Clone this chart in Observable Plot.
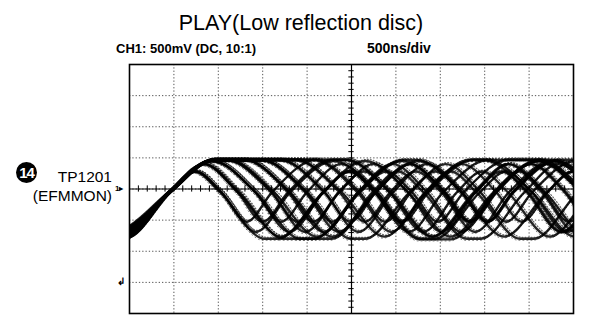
<!DOCTYPE html>
<html>
<head>
<meta charset="utf-8">
<script src="https://cdn.jsdelivr.net/npm/d3@7"></script>
<script src="https://cdn.jsdelivr.net/npm/@observablehq/plot@0.6"></script>
<style>
  html, body { margin: 0; padding: 0; background: #fff; }
  #wrap { position: relative; width: 589px; height: 329px; font-family: "Liberation Sans", Arial, sans-serif; color: #000; overflow: hidden; }
  #title { position: absolute; left: 0; width: 602px; top: 10px; text-align: center; font-size: 21.5px; line-height: 26px; }
  .sub { position: absolute; top: 41px; font-size: 13px; font-weight: bold; line-height: 16px; }
  #badge { position: absolute; left: 16px; top: 162px; width: 21px; height: 21px; border-radius: 50%; background: #000; color: #fff; font-size: 15px; font-weight: bold; text-align: center; line-height: 21px; letter-spacing: -1px; }
  .lab { position: absolute; right: 477px; font-size: 15.5px; line-height: 18px; white-space: nowrap; }
  .mark { position: absolute; font-size: 8px; font-weight: bold; line-height: 9px; }
  #chart { position: absolute; left: 0; top: 0; }
</style>
</head>
<body>
<div id="wrap">
  <div id="chart"></div>
  <div id="title">PLAY(Low reflection disc)</div>
  <div class="sub" style="left:116px">CH1: 500mV (DC, 10:1)</div>
  <div class="sub" style="left:367px; font-size:14px; top:40px">500ns/div</div>
  <div id="badge">14</div>
  <div class="lab" style="top:168px">TP1201</div>
  <div class="lab" style="top:187px">(EFMMON)</div>
  <div class="mark" style="left:115px; top:184px">1▸</div>
  <div class="mark" style="left:117px; top:277px; font-size:10px">↲</div>
</div>
<script>
// Screen divisions (500 ns/div horizontally, 500 mV/div vertically)
const xDivs = [0, 1, 2, 3, 4, 5, 6, 7, 8, 9, 10];
const yDivs = [-4, -3, -2, -1, 0, 1, 2, 3, 4];

// EFM channel bit period in divisions and timing
const T = 0.385;          // crossings ~17 px apart
const edge = 2.6;         // bit periods an edge needs to reach a plateau
const triggerEdge = 0.9;  // rising edge at the trigger
const midLevel = -0.1;    // level where rising and falling sweeps cross

// Peak level reached by a run of n T (index = run length)
const highLevel = [0, 0, 0, 0.56, 0.8, 0.9, 0.93, 0.94, 0.93, 0.94, 0.93, 0.94];
const lowLevel  = [0, 0, 0, -1.05, -1.38, -1.53, -1.6, -1.62, -1.6, -1.63, -1.6, -1.62];

// Run-length sequences of the overlaid sweeps (first run is high, after the trigger)
const runs = [
  [3,4,5,3,6,4], [3,3,7,5,4,3], [3,6,3,4,8,3],
  [4,3,6,4,3,5,3], [4,5,3,7,4,3], [4,8,4,3,5,3],
  [5,3,4,6,3,5], [5,4,3,3,6,4], [5,6,5,3,4,3],
  [6,3,5,4,3,4], [6,4,4,5,3,6], [6,5,3,3,7,4],
  [7,3,3,5,4,4], [7,4,6,3,5], [7,5,4,3,6],
  [8,3,4,4,5,3], [8,4,3,6,4], [8,6,3,5,3],
  [9,3,5,3,4,4], [9,4,4,3,6],
  [10,3,3,4,5], [10,5,4,3,3],
  [11,3,4,3,5], [11,4,3,6,3]
];
// Level before the trigger edge, and small timing jitter for each sweep
const preLevel = [-1.3,-1.45,-1.55, -1.35,-1.5,-1.58, -1.28,-1.48,-1.55, -1.4,-1.52,-1.33,
                  -1.46,-1.56,-1.38, -1.5,-1.3,-1.57, -1.42,-1.54, -1.36,-1.5, -1.47,-1.58];
const shift = [0.00,0.02,-0.02, 0.01,-0.01,0.03, -0.02,0.02,0.00, 0.01,-0.03,0.02,
               0.00,-0.01,0.02, -0.02,0.01,0.00, 0.03,-0.02, 0.01,0.00, -0.01,0.02];
const drift = [0.010,-0.008,0.004, -0.012,0.006,0.0, 0.012,-0.004,0.008, -0.006,0.002,0.010,
               -0.010,0.006,-0.002, 0.008,-0.012,0.004, 0.0,0.010, -0.008,0.006, 0.012,-0.006];

// Build the sweep table from the run lengths
const pts = [];
runs.forEach((seq, i) => {
  const add = (x, y) => pts.push({id: i, x, y});
  add(-1.2, -1.62);
  add(triggerEdge - edge * T + shift[i], preLevel[i]);
  let t = triggerEdge + shift[i];
  add(t, midLevel);
  let high = true;
  const Ti = T * (1 + drift[i]);
  for (const n of seq) {
    const a = t, b = t + n * Ti;
    const A = high ? highLevel[n] : lowLevel[n];
    if (n <= 5) add((a + b) / 2, A);
    else { add(a + edge * Ti, A); add(b - edge * Ti, A); }
    add(b, midLevel);
    t = b;
    high = !high;
  }
});

const minorX = d3.range(0, 10.001, 0.2);
const minorY = d3.range(-4, 4.001, 0.2);

const chart = Plot.plot({
  width: 589,
  height: 329,
  marginLeft: 129,
  marginRight: 16,
  marginTop: 64,
  marginBottom: 16,
  x: {domain: [0, 10], axis: null},
  y: {domain: [-4, 4], axis: null},
  style: {background: "white"},
  marks: [
    Plot.ruleX(xDivs.slice(1, -1), {stroke: "#555", strokeDasharray: "1.3,2", strokeWidth: 1}),
    Plot.ruleY(yDivs.slice(1, -1), {stroke: "#555", strokeDasharray: "1.3,2", strokeWidth: 1}),
    Plot.line(pts, {x: "x", y: "y", z: "id", curve: "monotone-x", stroke: "#000", strokeWidth: 2.4, strokeOpacity: 0.85, clip: true}),
    Plot.line(pts, {x: d => d.x + 0.04, y: d => d.y + 0.05, z: "id", curve: "monotone-x", stroke: "#000", strokeWidth: 1.2, strokeOpacity: 0.6, strokeDasharray: "1,2", clip: true}),
    Plot.line(pts, {x: d => d.x - 0.03, y: d => d.y - 0.05, z: "id", curve: "monotone-x", stroke: "#000", strokeWidth: 1, strokeOpacity: 0.5, strokeDasharray: "1,3", clip: true}),
    Plot.ruleY([0], {stroke: "#000", strokeWidth: 1.2}),
    Plot.ruleX([5], {stroke: "#000", strokeWidth: 1.2}),
    Plot.ruleX(minorX, {y1: -0.1, y2: 0.1, stroke: "#000", strokeWidth: 1}),
    Plot.ruleY(minorY, {x1: 4.94, x2: 5.06, stroke: "#000", strokeWidth: 1}),
    Plot.frame({stroke: "#000", strokeWidth: 1.6})
  ]
});
document.getElementById("chart").appendChild(chart);
</script>
</body>
</html>
